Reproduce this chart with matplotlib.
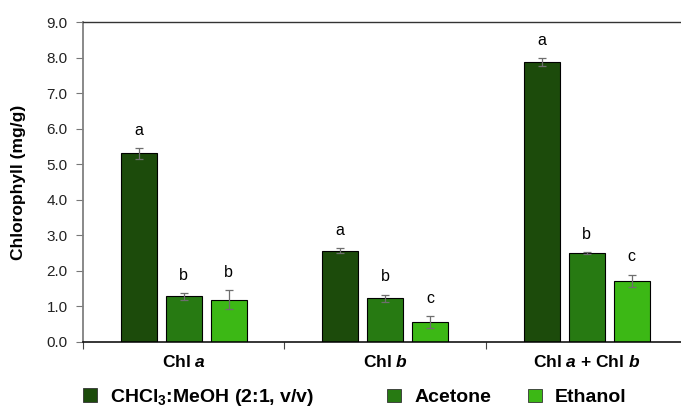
import matplotlib
matplotlib.use("Agg")
import matplotlib.pyplot as plt
import numpy as np
from matplotlib.patches import Patch
from matplotlib.ticker import FixedLocator, FormatStrFormatter

plt.rcParams['font.family'] = ['Liberation Sans', 'DejaVu Sans']
plt.rcParams['mathtext.fontset'] = 'custom'
plt.rcParams['mathtext.rm'] = 'Liberation Sans:bold'
plt.rcParams['mathtext.it'] = 'Liberation Sans:bold:italic'
plt.rcParams['mathtext.bf'] = 'Liberation Sans:bold'

categories = ["Chl $a$", "Chl $b$", "Chl $a$ + Chl $b$"]
series_names = ["CHCl$_3$:MeOH (2:1, v/v)", "Acetone", "Ethanol"]
chcl3_vals = [5.31, 2.57, 7.88]
chcl3_err = [0.15, 0.07, 0.11]
acetone_vals = [1.28, 1.23, 2.50]
acetone_err = [0.10, 0.10, 0.02]
ethanol_vals = [1.19, 0.56, 1.72]
ethanol_err = [0.27, 0.17, 0.17]
chcl3_letters = ["a", "a", "a"]
acetone_letters = ["b", "b", "b"]
ethanol_letters = ["b", "c", "c"]
yticks = [0.0, 1.0, 2.0, 3.0, 4.0, 5.0, 6.0, 7.0, 8.0, 9.0]

colors = ["#1c4b0b", "#277a12", "#3cb815"]

fig = plt.figure(figsize=(6.81, 4.08), dpi=100)
ax = fig.add_axes([0.1219, 0.162, 0.8781, 0.784])

x = np.arange(len(categories))
width = 0.179
offsets = [-0.223, 0.0, 0.223]
vals = [chcl3_vals, acetone_vals, ethanol_vals]
errs = [chcl3_err, acetone_err, ethanol_err]
letters = [chcl3_letters, acetone_letters, ethanol_letters]

for i in range(3):
    ax.bar(x + offsets[i], vals[i], width, color=colors[i], edgecolor="black",
           linewidth=0.8, zorder=2)
    ax.errorbar(x + offsets[i], vals[i], yerr=errs[i], fmt="none",
                ecolor="#6e6e6e", elinewidth=0.9, capsize=3, capthick=0.9, zorder=3)
    for xi, v, e, t in zip(x + offsets[i], vals[i], errs[i], letters[i]):
        ax.text(xi, v + e + 0.5, t, ha="center", va="center", fontsize=11.5, color="black")

ax.set_xlim(-0.5, 2.468)
ax.set_ylim(0, 9.0)
ax.yaxis.set_major_locator(FixedLocator(yticks))
ax.yaxis.set_major_formatter(FormatStrFormatter("%.1f"))
ax.tick_params(axis="y", direction="out", length=5, width=0.8, color="#777777",
               labelsize=11, labelcolor="#222222", pad=6)

ax.set_xticks(x)
ax.set_xticklabels(categories, fontsize=12.5, fontweight="bold")
ax.tick_params(axis="x", which="major", length=0, pad=9)
ax.set_xticks([-0.5, 0.5, 1.5], minor=True)
ax.tick_params(axis="x", which="minor", direction="out", length=5, width=0.8, color="#444444")

ax.spines["right"].set_visible(False)
ax.spines["left"].set_color("#808080")
ax.spines["left"].set_linewidth(1.3)
ax.spines["top"].set_color("#333333")
ax.spines["top"].set_linewidth(1.0)
ax.spines["bottom"].set_color("black")
ax.spines["bottom"].set_linewidth(1.1)

ax.set_ylabel("Chlorophyll (mg/g)", fontsize=12.5, fontweight="bold")
ax.yaxis.set_label_coords(-0.095, 0.5)

legend_x = [83 / 681, 387 / 681, 528 / 681]
for i in range(3):
    h = Patch(facecolor=colors[i], edgecolor="#333333", linewidth=0.6)
    fig.legend(handles=[h], labels=[series_names[i]], loc="center left",
               bbox_to_anchor=(legend_x[i], 0.026), frameon=False,
               prop={"size": 14, "weight": "bold"}, handlelength=0.7,
               handleheight=0.7, handletextpad=0.7, borderpad=0, borderaxespad=0)

fig.savefig("out.png", dpi=100)
